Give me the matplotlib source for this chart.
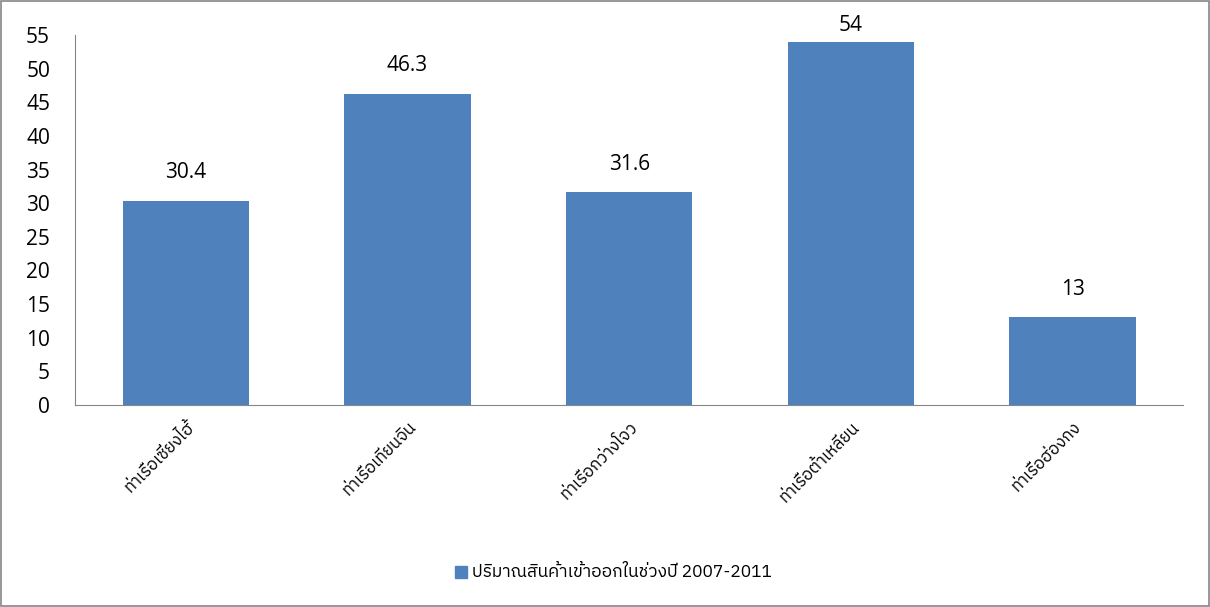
import matplotlib.pyplot as plt
from matplotlib import font_manager
from matplotlib.patches import Rectangle

# Ports and export/import volume
ports = ["ท่าเรือเซี่ยงไฮ้", "ท่าเรือเทียนจิน", "ท่าเรือกว่างโจว",
         "ท่าเรือต้าเหลียน", "ท่าเรือฮ่องกง"]
volumes = [30.4, 46.3, 31.6, 54, 13]
value_labels = ["30.4", "46.3", "31.6", "54", "13"]
y_ticks = list(range(0, 60, 5))
legend_label = "ปริมาณสินค้าเข้าออกในช่วงปี 2007-2011"

# pick up whatever Thai-capable font is installed
names = sorted({f.name for f in font_manager.fontManager.ttflist})
thai_fonts = [n for n in names if "Thai" in n or "Loma" in n or "Garuda" in n]
fam = thai_fonts + ["DejaVu Sans"]

bar_color = "#4F81BD"
axis_color = "#868686"

fig = plt.figure(figsize=(12.1, 6.07), dpi=100)
ax = fig.add_axes([0.062, 0.333, 0.916, 0.609])

x = range(len(ports))
ax.bar(x, volumes, width=0.57, color=bar_color)
for xi, v, lab in zip(x, volumes, value_labels):
    ax.text(xi, min(v + 4.2, 56.4), lab, ha="center", va="center", fontsize=15,
            family="Open Sans")

ax.set_xlim(-0.5, len(ports) - 0.5)
ax.set_ylim(0, 55)
ax.set_yticks(y_ticks)
ax.set_yticklabels([str(t) for t in y_ticks], fontsize=15, family="Open Sans")
ax.tick_params(axis="y", length=0, pad=18)
ax.set_xticks(list(x))
ax.set_xticklabels(ports, rotation=45, ha="right", rotation_mode="anchor",
                   fontsize=12, family=fam)
ax.tick_params(axis="x", length=0, pad=10)

for side in ["top", "right"]:
    ax.spines[side].set_visible(False)
for side in ["left", "bottom"]:
    ax.spines[side].set_color(axis_color)

# legend below the plot
fig.patches.append(Rectangle((0.376, 0.047), 0.010, 0.020, transform=fig.transFigure,
                             color=bar_color))
fig.text(0.390, 0.057, legend_label, va="center", fontsize=12.5, family=fam)

# chart border
fig.patches.append(Rectangle((0.001, 0.002), 0.998, 0.996, transform=fig.transFigure,
                             fill=False, edgecolor=axis_color, linewidth=1.2))

fig.savefig("out.png", dpi=100)
